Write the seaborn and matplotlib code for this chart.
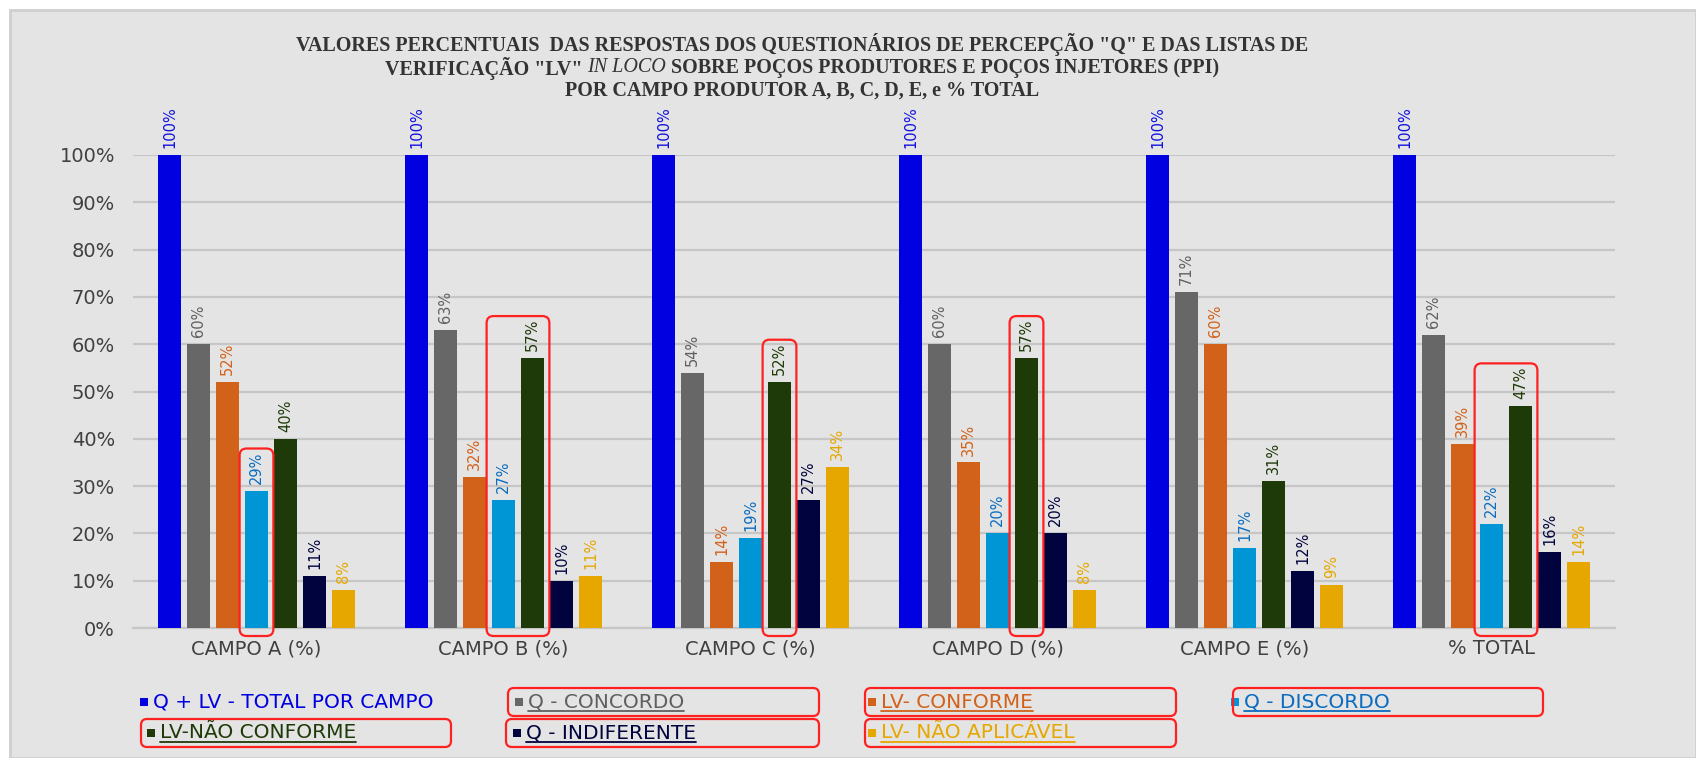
import numpy as np
import pandas as pd
import matplotlib
matplotlib.use("Agg")
import matplotlib.pyplot as plt
import seaborn as sns
from matplotlib.patches import FancyBboxPatch, Rectangle
from matplotlib.lines import Line2D
from matplotlib.transforms import IdentityTransform

# ---------------- data ----------------
campos = ["CAMPO A (%)", "CAMPO B (%)", "CAMPO C (%)", "CAMPO D (%)", "CAMPO E (%)", "% TOTAL"]
series = ["Q + LV - TOTAL POR CAMPO", "Q - CONCORDO", "LV- CONFORME", "Q - DISCORDO",
          "LV-NÃO CONFORME", "Q - INDIFERENTE", "LV- NÃO APLICÁVEL"]
total = [100, 100, 100, 100, 100, 100]
concordo = [60, 63, 54, 60, 71, 62]
conforme = [52, 32, 14, 35, 60, 39]
discordo = [29, 27, 19, 20, 17, 22]
nao_conforme = [40, 57, 52, 57, 31, 47]
indiferente = [11, 10, 27, 20, 12, 16]
nao_aplicavel = [8, 11, 34, 8, 9, 14]
yticks = [0, 10, 20, 30, 40, 50, 60, 70, 80, 90, 100]
ytick_labels = [f"{v}%" for v in yticks]

# highlighted (red boxed) groups: (campo index, series indices)
highlights = [(0, [3]), (1, [3, 4]), (2, [4]), (3, [4]), (5, [3, 4])]
boxed_legend = [False, True, True, True, True, True, True]

bar_colors = ["#0000e0", "#676767", "#d26119", "#0096d6", "#1f3a09", "#00033d", "#e6a700"]
label_colors = ["#1010e0", "#606060", "#d26119", "#0a6cc0", "#1f3a09", "#00033d", "#e6a700"]

values = [total, concordo, conforme, discordo, nao_conforme, indiferente, nao_aplicavel]
rows = []
for s, vals in zip(series, values):
    for c, v in zip(campos, vals):
        rows.append({"campo": c, "serie": s, "valor": v})
df = pd.DataFrame(rows)

# ---------------- figure ----------------
W, H = 1696, 758
sns.set_style("white")
plt.rcParams["font.family"] = ["DejaVu Sans"]
fig = plt.figure(figsize=(W / 100, H / 100), dpi=100, facecolor="white")
fig.add_artist(Rectangle((10, 0), W - 10, H - 10, transform=IdentityTransform(),
                         facecolor="#e4e4e4", edgecolor="#cfcfcf", lw=2, zorder=-10))

ax = fig.add_axes([133 / W, 1 - 628 / H, (1615 - 133) / W, (628 - 155) / H])
ax.set_facecolor("none")

sns.barplot(data=df, x="campo", y="valor", hue="serie", hue_order=series, order=campos,
            palette=dict(zip(series, bar_colors)), saturation=1, width=0.822, gap=0.18,
            errorbar=None, linewidth=0, legend=False, ax=ax, zorder=3)

ax.set_ylim(0, 100)
ax.set_xlim(-0.5, len(campos) - 0.5)
ax.set_yticks(yticks)
ax.set_yticklabels(ytick_labels)
ax.set_xlabel("")
ax.set_ylabel("")
ax.yaxis.grid(True, color="#c6c6c6", lw=1.6, zorder=0)
ax.set_axisbelow(True)
for sp in ["top", "right", "left"]:
    ax.spines[sp].set_visible(False)
ax.spines["bottom"].set_color("#c6c6c6")
ax.spines["bottom"].set_linewidth(1.6)
ax.tick_params(axis="both", length=0, labelsize=14, labelcolor="#404040")
ax.tick_params(axis="y", pad=13)
ax.tick_params(axis="x", pad=8)

label_texts = []
for i, cont in enumerate(ax.containers):
    t = ax.bar_label(cont, labels=[f"{v}%" for v in values[i]], rotation=90, padding=5,
                     fontsize=10.5, color=label_colors[i])
    label_texts.append(t)

# ---------------- title ----------------
tcx = 802
tfont = dict(family="Liberation Serif", weight="bold", size=14.5, color="#333333")
fig.text(tcx / W, 1 - 44 / H, 'VALORES PERCENTUAIS  DAS RESPOSTAS DOS QUESTIONÁRIOS DE PERCEPÇÃO "Q" E DAS LISTAS DE',
         ha="center", va="center", **tfont)
fig.text(tcx / W, 1 - 91 / H, "POR CAMPO PRODUTOR A, B, C, D, E, e % TOTAL",
         ha="center", va="center", **tfont)
parts = [('VERIFICAÇÃO "LV" ', "normal"), ("IN LOCO", "italic"),
         (" SOBRE POÇOS PRODUTORES E POÇOS INJETORES (PPI)", "normal")]
fig.canvas.draw()
renderer = fig.canvas.get_renderer()
ptexts = []
for txt, style in parts:
    kw = dict(tfont)
    if style == "italic":
        kw["weight"] = "normal"
    t = fig.text(0, 1 - 68 / H, txt, ha="left", va="center", style=style, **kw)
    ptexts.append(t)
widths = [t.get_window_extent(renderer).width for t in ptexts]
x = tcx - sum(widths) / 2
for t, w in zip(ptexts, widths):
    t.set_x(x / W)
    x += w

# ---------------- red boxes around highlighted bars ----------------
fig.canvas.draw()
base_px = ax.transData.transform((0, 0))[1]
for ci, sidx in highlights:
    bars = [ax.containers[s][ci] for s in sidx]
    x0 = min(ax.transData.transform((b.get_x(), 0))[0] for b in bars) - 5
    x1 = max(ax.transData.transform((b.get_x() + b.get_width(), 0))[0] for b in bars) + 5
    top = max(label_texts[s][ci].get_window_extent(renderer).y1 for s in sidx) + 3
    bot = base_px - 8
    fig.add_artist(FancyBboxPatch((x0, bot), x1 - x0, top - bot,
                                  boxstyle="round,pad=0,rounding_size=7",
                                  transform=IdentityTransform(), facecolor="none",
                                  edgecolor="#ff2020", lw=1.6, zorder=5))

# ---------------- legend ----------------
leg_sq_x = [144, 519, 872, 1235, 151, 517, 872]
leg_row_y = [702, 702, 702, 702, 733, 733, 733]
leg_box_x = [None, (508, 819), (865, 1176), (1233, 1543), (141, 451), (506, 819), (865, 1176)]
leg_texts = []
for i, s in enumerate(series):
    yc = H - leg_row_y[i]
    fig.add_artist(Rectangle((leg_sq_x[i] - 4, yc - 4), 8, 8, transform=IdentityTransform(),
                             facecolor=bar_colors[i], edgecolor="none", zorder=5))
    t = fig.text((leg_sq_x[i] + 9) / W, yc / H, s, ha="left", va="center", fontsize=14.5,
                 color=label_colors[i] if i != 0 else "#0000e0")
    leg_texts.append(t)
    if leg_box_x[i] is not None:
        bx0, bx1 = leg_box_x[i]
        fig.add_artist(FancyBboxPatch((bx0, yc - 14), bx1 - bx0, 28,
                                      boxstyle="round,pad=0,rounding_size=6",
                                      transform=IdentityTransform(), facecolor="none",
                                      edgecolor="#ff2020", lw=1.6, zorder=5))
fig.canvas.draw()
for i, t in enumerate(leg_texts):
    if boxed_legend[i]:
        bb = t.get_window_extent(renderer)
        fig.add_artist(Line2D([bb.x0, bb.x1], [bb.y0 + 1, bb.y0 + 1], transform=IdentityTransform(),
                              color=label_colors[i], lw=1.3, zorder=5))

fig.savefig("out.png", dpi=100, facecolor=fig.get_facecolor())
